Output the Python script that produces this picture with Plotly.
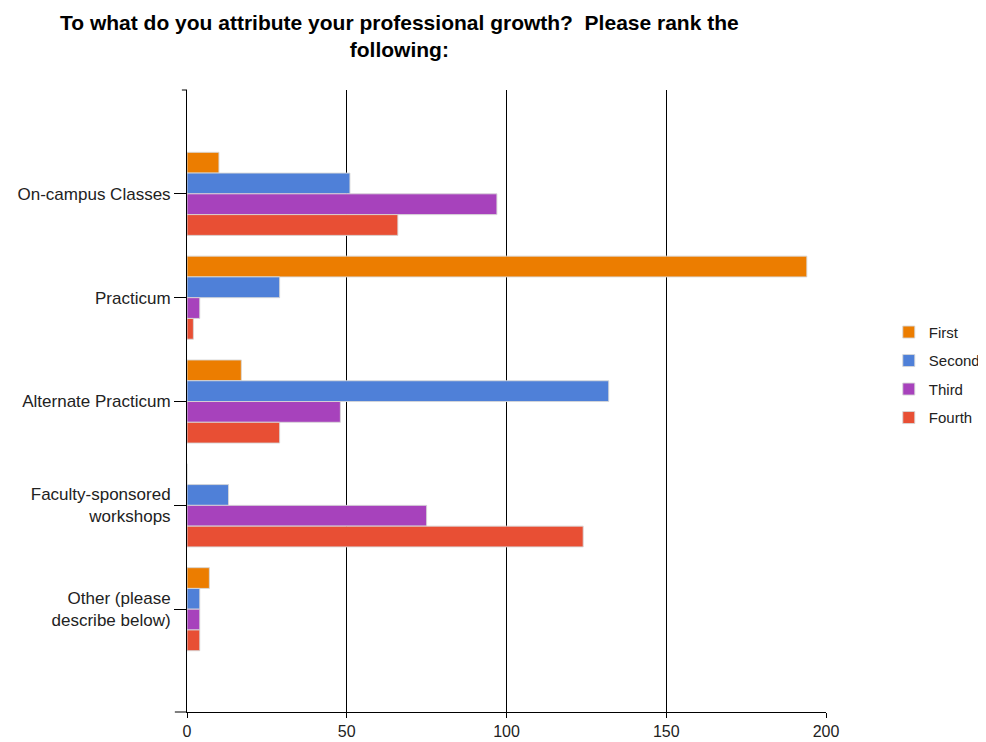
import plotly.graph_objects as go

categories = ["On-campus Classes", "Practicum", "Alternate Practicum",
              "Faculty-sponsored<br>workshops", "Other (please<br>describe below)"]
series_names = ["First", "Second", "Third", "Fourth"]
first = [10, 194, 17, 0, 7]
second = [51, 29, 132, 13, 4]
third = [97, 4, 48, 75, 4]
fourth = [66, 2, 29, 124, 4]
x_ticks = [0, 50, 100, 150, 200]

values = [first, second, third, fourth]
colors = ["#EC7D00", "#4F80D8", "#A742BC", "#E84F34"]

font_family = "Arial, Liberation Sans, sans-serif"
title_text = "<b>To what do you attribute your professional growth?  Please rank the<br>following:</b>"

fig = go.Figure()
for name, vals, col in zip(series_names, values, colors):
    fig.add_trace(go.Bar(
        y=categories, x=vals, name=name, orientation="h",
        legendgroup=name,
        marker=dict(color=col, line=dict(color="rgba(215,215,215,0.9)", width=1)),
    ))

fig.update_layout(
    width=986, height=734,
    paper_bgcolor="white", plot_bgcolor="white",
    margin=dict(l=179, r=168, t=82, b=30, autoexpand=False),
    barmode="group", bargap=0.2, bargroupgap=0.0,
    font=dict(family=font_family, color="#222222"),
    legend=dict(
        x=1.2485, xanchor="right", y=0.637, yanchor="top",
        traceorder="grouped", tracegroupgap=6,
        font=dict(size=15, family=font_family, color="#222222"),
        bgcolor="rgba(0,0,0,0)",
    ),
    xaxis=dict(
        range=[0, 200], tickvals=x_ticks, ticktext=[str(v) for v in x_ticks],
        showgrid=True, gridcolor="black", gridwidth=1,
        showline=True, linecolor="black", linewidth=1,
        ticks="outside", ticklen=5, tickcolor="black",
        zeroline=False, automargin=False,
        tickfont=dict(size=16, family=font_family, color="#222222"),
    ),
    yaxis=dict(
        type="category", autorange=False, range=[4.99, -1.0],
        showgrid=False, showline=True, linecolor="black", linewidth=1,
        ticks="outside", ticklen=12, tickcolor="black", automargin=False,
        tickfont=dict(size=17, family=font_family, color="#222222"),
    ),
    annotations=[
        dict(text=title_text, xref="paper", yref="paper", x=0.332, y=1.13,
             xanchor="center", yanchor="top", showarrow=False, align="center",
             font=dict(size=21, family=font_family, color="black")),
    ],
    shapes=[
        dict(type="line", xref="paper", yref="paper", x0=-0.008, x1=0, y0=1, y1=1,
             line=dict(color="black", width=1)),
        dict(type="line", xref="paper", yref="paper", x0=-0.019, x1=0, y0=0, y1=0,
             line=dict(color="black", width=1)),
    ],
)

fig.write_html("out.html")
